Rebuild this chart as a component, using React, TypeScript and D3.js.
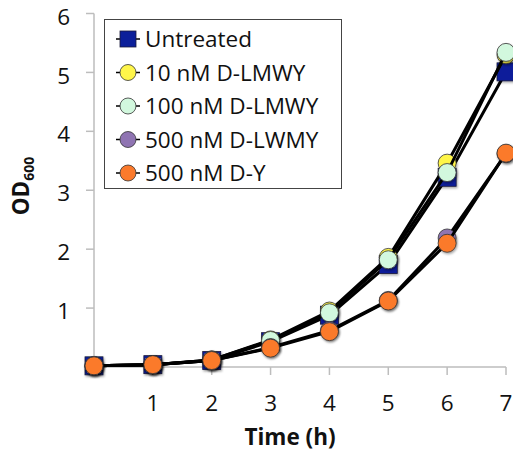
import React from "react";
import * as d3 from "d3";

// Sampling times (h)
const hours = [0, 1, 2, 3, 4, 5, 6, 7];

// OD600 readings for each culture condition
const untreated = [0.02, 0.04, 0.11, 0.43, 0.88, 1.74, 3.22, 5.01];
const lmwy10 = [0.02, 0.04, 0.12, 0.46, 0.95, 1.86, 3.46, 5.3];
const lmwy100 = [0.02, 0.04, 0.12, 0.45, 0.92, 1.82, 3.3, 5.34];
const lwmy500 = [0.02, 0.04, 0.11, 0.33, 0.62, 1.13, 2.19, 3.62];
const dy500 = [0.02, 0.04, 0.11, 0.32, 0.6, 1.12, 2.1, 3.63];

const seriesNames = [
  "Untreated",
  "10 nM D-LMWY",
  "100 nM D-LMWY",
  "500 nM D-LWMY",
  "500 nM D-Y",
];
const seriesColors = ["#0c1f9a", "#fff64a", "#d2f8de", "#8f74b2", "#fb7a2c"];
const seriesShapes = ["square", "circle", "circle", "circle", "circle"];
const seriesValues = [untreated, lmwy10, lmwy100, lwmy500, dy500];

const xTicks = [1, 2, 3, 4, 5, 6, 7];
const yTicks = [1, 2, 3, 4, 5, 6];

const W = 513;
const H = 455;
const FONT = "'Open Sans', Lato, sans-serif";

export default function App() {
  const x = d3.scaleLinear().domain([0, 7]).range([94, 506]);
  const y = d3.scaleLinear().domain([0, 6]).range([367, 13.5]);
  const line = d3
    .line<number>()
    .x((_, i) => x(hours[i]))
    .y((d) => y(d));

  const axisColor = "#bdbdbd";
  const r = 9;

  const marker = (shape: string, color: string, cx: number, cy: number, key: string, size = r) =>
    shape === "square" ? (
      <rect
        key={key}
        x={cx - size}
        y={cy - size}
        width={size * 2}
        height={size * 2}
        fill={color}
        stroke="#1a1a3a"
        strokeWidth={0.8}
      />
    ) : (
      <circle key={key} cx={cx} cy={cy} r={size} fill={color} stroke="#333" strokeWidth={0.8} />
    );

  const legendTop = 39;
  const legendStep = 33.5;
  const fs = 22.5;

  return (
    <svg
      width={W}
      height={H}
      style={{ position: "absolute", left: 0, top: 0, background: "#fff" }}
      fontFamily={FONT}
    >
      <defs>
        <filter id="shadow" x="-50%" y="-50%" width="200%" height="200%">
          <feDropShadow dx="1" dy="1.5" stdDeviation="0.8" floodColor="#000" floodOpacity="0.35" />
        </filter>
      </defs>

      {/* axes */}
      <line x1={x(0)} x2={x(0)} y1={y(6)} y2={y(0)} stroke={axisColor} strokeWidth={1.5} />
      <line x1={x(0)} x2={x(7)} y1={y(0)} y2={y(0)} stroke={axisColor} strokeWidth={1.5} />
      {yTicks.map((t) => (
        <g key={`yt${t}`}>
          <line x1={x(0) - 8} x2={x(0)} y1={y(t)} y2={y(t)} stroke={axisColor} strokeWidth={1.5} />
          <text x={70} y={y(t) + 3} dy="0.36em" textAnchor="end" fontSize={fs} fill="#111">
            {t}
          </text>
        </g>
      ))}
      {xTicks.map((t) => (
        <g key={`xt${t}`}>
          <line x1={x(t)} x2={x(t)} y1={y(0)} y2={y(0) + 8} stroke={axisColor} strokeWidth={1.5} />
          <text x={x(t)} y={403} dy="0.36em" textAnchor="middle" fontSize={fs} fill="#111">
            {t}
          </text>
        </g>
      ))}

      {/* axis titles */}
      <text x={290} y={437} dy="0.36em" textAnchor="middle" fontSize={fs} fontWeight="bold" fill="#111">
        Time (h)
      </text>
      <text
        transform={`translate(29,186) rotate(-90)`}
        textAnchor="middle"
        fontSize={fs}
        fontWeight="bold"
        fill="#111"
      >
        OD
        <tspan fontSize={14} dy={5}>
          600
        </tspan>
      </text>

      {/* series */}
      {seriesValues.map((vals, s) => (
        <g key={`s${s}`}>
          <path d={line(vals) ?? ""} fill="none" stroke="#000" strokeWidth={3} />
          <g filter="url(#shadow)">
            {vals.map((v, i) =>
              marker(seriesShapes[s], seriesColors[s], x(hours[i]), y(v), `m${s}-${i}`)
            )}
          </g>
        </g>
      ))}

      {/* legend */}
      <rect x={104.5} y={19.5} width={237} height={169} fill="#fff" stroke="#444" strokeWidth={1} />
      {seriesNames.map((name, s) => {
        const cy = legendTop + s * legendStep;
        return (
          <g key={`lg${s}`}>
            <line x1={116} x2={140} y1={cy} y2={cy} stroke="#000" strokeWidth={1.5} />
            {marker(seriesShapes[s], seriesColors[s], 128, cy, `lm${s}`, 8)}
            <text x={145} y={cy} dy="0.36em" fontSize={fs} fill="#111">
              {name}
            </text>
          </g>
        );
      })}
    </svg>
  );
}
